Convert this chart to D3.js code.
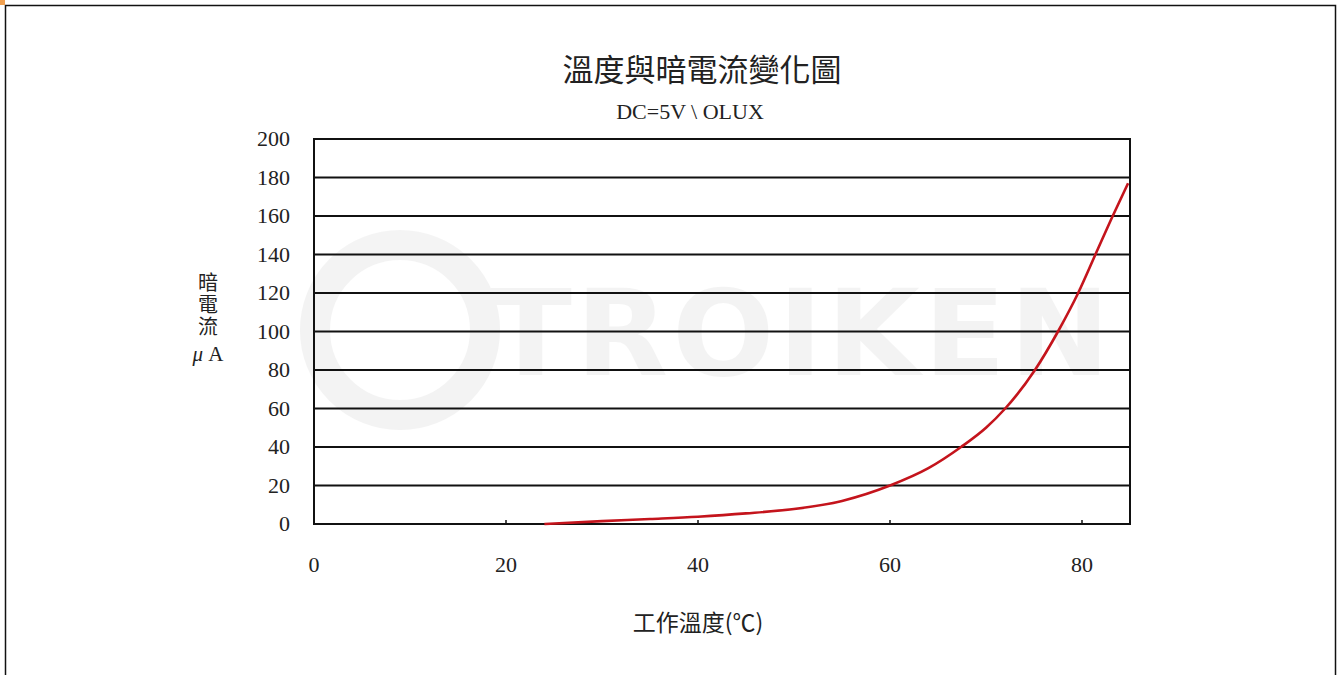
<!DOCTYPE html>
<html>
<head>
<meta charset="utf-8">
<script src="https://cdn.jsdelivr.net/npm/d3@7"></script>
<style>
  body { margin: 0; background: #fff; }
  svg text { font-family: "Liberation Serif", "Noto Sans CJK TC", serif; fill: #222; }
  .cjk { font-family: "Noto Sans CJK TC", sans-serif; }
</style>
</head>
<body>
<div id="chart"></div>
<script>
// temperature (°C) vs dark current (µA)
const temps = [24, 30, 35, 40, 45, 50, 55, 60, 64, 67.4, 70, 72, 75.1, 77.5, 79.6, 81.4, 83.2, 84.8];
const current = [0, 1.5, 2.6, 3.8, 5.5, 7.8, 12, 20, 29, 40, 50, 60, 80, 100, 120, 140, 160, 177];
const xTicks = [0, 20, 40, 60, 80];
const yTicks = [0, 20, 40, 60, 80, 100, 120, 140, 160, 180, 200];

const W = 1343, H = 675;
const svg = d3.select('#chart').append('svg')
    .attr('width', W).attr('height', H);

// page frame
svg.append('rect').attr('x', 5.5).attr('y', 5.5).attr('width', 1330).attr('height', 680)
    .attr('fill', 'none').attr('stroke', '#111').attr('stroke-width', 1.5);
svg.append('rect').attr('x', 0).attr('y', 0).attr('width', 5).attr('height', 5).attr('fill', '#f0a050');

const pl = 314, pr = 1130, pt = 139, pb = 524;

const x = d3.scaleLinear().domain([0, 85]).range([pl, pr]);
const y = d3.scaleLinear().domain([0, 200]).range([pb, pt]);

// faint watermark
const wm = svg.append('g').attr('opacity', 0.045);
wm.append('circle').attr('cx', 400).attr('cy', 330).attr('r', 85)
    .attr('fill', 'none').attr('stroke', '#000').attr('stroke-width', 30);
wm.append('text').attr('x', 490).attr('y', 375).attr('font-size', 120)
    .attr('font-weight', 'bold').style('font-family', 'DejaVu Sans').style('fill', '#000')
    .attr('textLength', 620).text('TROIKEN');

// gridlines
svg.append('g').selectAll('line').data(yTicks.slice(1, -1)).enter().append('line')
    .attr('x1', pl).attr('x2', pr)
    .attr('y1', d => y(d)).attr('y2', d => y(d))
    .attr('stroke', '#111').attr('stroke-width', 2);

// x ticks (inward)
svg.append('g').selectAll('line').data(xTicks.slice(1)).enter().append('line')
    .attr('x1', d => x(d)).attr('x2', d => x(d))
    .attr('y1', pb).attr('y2', pb - 4)
    .attr('stroke', '#111').attr('stroke-width', 1.5);

// plot border
svg.append('rect').attr('x', pl).attr('y', pt)
    .attr('width', pr - pl).attr('height', pb - pt)
    .attr('fill', 'none').attr('stroke', '#111').attr('stroke-width', 2);

// curve
const line = d3.line().x((d, i) => x(temps[i])).y(d => y(d)).curve(d3.curveMonotoneX);
svg.append('path').datum(current)
    .attr('d', line)
    .attr('fill', 'none').attr('stroke', '#c4141c').attr('stroke-width', 2.6);

// tick labels
svg.append('g').selectAll('text').data(yTicks).enter().append('text')
    .attr('x', 290).attr('y', d => y(d) + 7)
    .attr('text-anchor', 'end').attr('font-size', 22)
    .text(d => d);

svg.append('g').selectAll('text').data(xTicks).enter().append('text')
    .attr('x', d => x(d)).attr('y', 572)
    .attr('text-anchor', 'middle').attr('font-size', 22)
    .text(d => d);

// titles
svg.append('text').attr('class', 'cjk').attr('x', 702).attr('y', 81)
    .attr('text-anchor', 'middle').attr('font-size', 31).text('溫度與暗電流變化圖');
svg.append('text').attr('x', 690).attr('y', 119)
    .attr('text-anchor', 'middle').attr('font-size', 22).text('DC=5V \\ OLUX');

svg.append('text').attr('class', 'cjk').attr('x', 698).attr('y', 631)
    .attr('text-anchor', 'middle').attr('font-size', 23).text('工作溫度(℃)');

svg.append('text').attr('class', 'cjk').attr('x', 208).attr('y', 272)
    .style('writing-mode', 'vertical-rl').style('letter-spacing', '2px')
    .attr('font-size', 20).text('暗電流');
svg.append('text').attr('x', 208).attr('y', 361)
    .attr('text-anchor', 'middle').attr('font-size', 21)
    .html('<tspan font-style="italic">μ</tspan> A');
</script>
</body>
</html>
